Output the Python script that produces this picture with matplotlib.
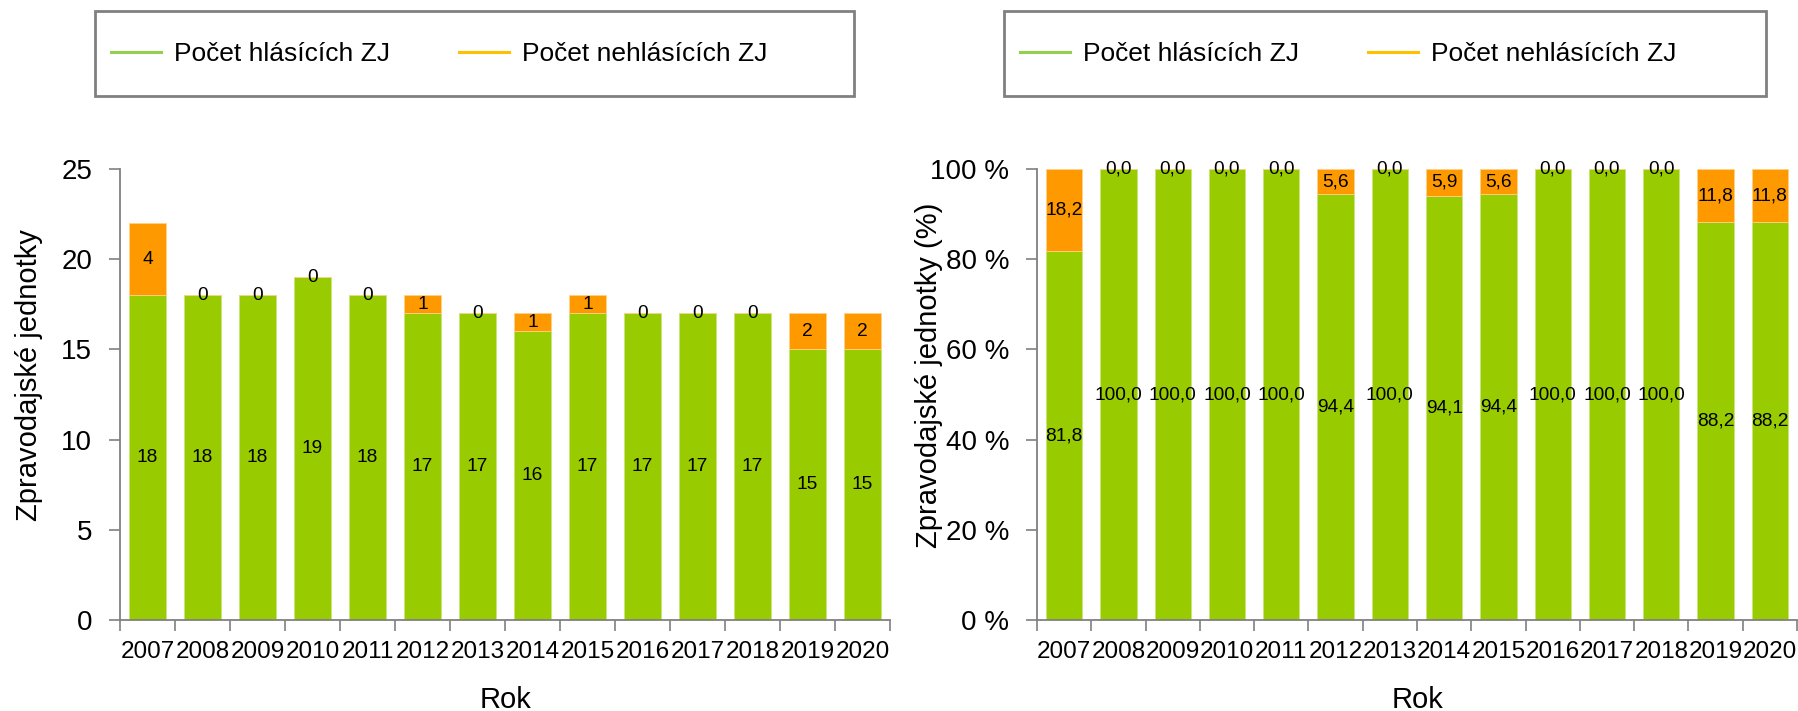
import matplotlib
matplotlib.use("Agg")
import matplotlib.pyplot as plt
from matplotlib.lines import Line2D
from matplotlib.patches import Rectangle
import numpy as np

plt.rcParams['font.family'] = ['Liberation Sans', 'DejaVu Sans']

years = ['2007', '2008', '2009', '2010', '2011', '2012', '2013',
         '2014', '2015', '2016', '2017', '2018', '2019', '2020']
reporting = [18, 18, 18, 19, 18, 17, 17, 16, 17, 17, 17, 17, 15, 15]
nonreporting = [4, 0, 0, 0, 0, 1, 0, 1, 1, 0, 0, 0, 2, 2]
reporting_pct = [81.8, 100.0, 100.0, 100.0, 100.0, 94.4, 100.0,
                 94.1, 94.4, 100.0, 100.0, 100.0, 88.2, 88.2]
nonreporting_pct = [18.2, 0.0, 0.0, 0.0, 0.0, 5.6, 0.0,
                    5.9, 5.6, 0.0, 0.0, 0.0, 11.8, 11.8]

legend_labels = ['Počet hlásících ZJ', 'Počet nehlásících ZJ']
ylabel_left = 'Zpravodajské jednotky'
ylabel_right = 'Zpravodajské jednotky (%)'
xlabel = 'Rok'

GREEN = '#99CC00'
ORANGE = '#FF9900'
LEG_GREEN = '#92D050'
LEG_ORANGE = '#FFC000'
SPINE = '#808080'

W, H = 1798, 711
fig = plt.figure(figsize=(W / 100, H / 100), dpi=100)

def px_axes(x0, x1, y0, y1):
    return fig.add_axes([x0 / W, 1 - y1 / H, (x1 - x0) / W, (y1 - y0) / H])

axL = px_axes(120, 890, 169, 620)
axR = px_axes(1037, 1797, 169, 620)

x = np.arange(len(years))

def draw(ax, g, o, ymax, yticks, fmt, tickfmt, ylab, ylab_x):
    b1 = ax.bar(x, g, width=0.67, color=GREEN, edgecolor='#c8e67a', linewidth=0.6)
    b2 = ax.bar(x, o, width=0.67, bottom=g, color=ORANGE, edgecolor='#ffd08a', linewidth=0.6)
    ax.bar_label(b1, labels=[fmt(v) for v in g], label_type='center', fontsize=13.8)
    ax.bar_label(b2, labels=[fmt(v) for v in o], label_type='center', fontsize=13.8)
    ax.set_xlim(-0.5, len(years) - 0.5)
    ax.set_ylim(0, ymax)
    ax.set_yticks(yticks)
    ax.set_yticklabels([tickfmt(v) for v in yticks])
    ax.set_xticks(x)
    ax.set_xticklabels(years)
    ax.set_xticks(np.arange(-0.5, len(years), 1.0), minor=True)
    ax.tick_params(axis='x', which='major', length=0, pad=15, labelsize=17.5)
    ax.tick_params(axis='x', which='minor', length=8, width=1.2, color=SPINE, direction='out')
    ax.tick_params(axis='y', length=8, width=1.2, color=SPINE, pad=12, labelsize=20)
    for s in ['top', 'right']:
        ax.spines[s].set_visible(False)
    for s in ['left', 'bottom']:
        ax.spines[s].set_color(SPINE)
        ax.spines[s].set_linewidth(1.3)
    ax.set_ylabel(ylab, fontsize=21)
    ax.yaxis.set_label_coords(ylab_x, 0.543)
    ax.set_xlabel(xlabel, fontsize=21)
    ax.xaxis.set_label_coords(0.5, -0.146)

draw(axL, reporting, nonreporting, 25, [0, 5, 10, 15, 20, 25],
     lambda v: f'{int(v)}', lambda v: f'{int(v)}', ylabel_left, -0.1)
draw(axR, reporting_pct, nonreporting_pct, 100, [0, 20, 40, 60, 80, 100],
     lambda v: f'{v:.1f}'.replace('.', ','), lambda v: f'{int(v)} %', ylabel_right, -0.124)

handles = [Line2D([0], [0], color=LEG_GREEN, lw=2.2),
           Line2D([0], [0], color=LEG_ORANGE, lw=2.2)]

for bx0, bx1 in [(95, 854), (1004, 1766)]:
    fig.add_artist(Rectangle((bx0 / W, 1 - 96 / H), (bx1 - bx0) / W, 85 / H,
                             transform=fig.transFigure, fill=False,
                             edgecolor=SPINE, linewidth=2))
    fig.legend(handles, legend_labels, loc='center left',
               bbox_to_anchor=((bx0 + 16) / W, 1 - 54 / H),
               ncol=2, frameon=False, fontsize=19, handlelength=1.9,
               handletextpad=0.5, columnspacing=2.6, borderpad=0, borderaxespad=0)

fig.savefig('out.png', dpi=100)
